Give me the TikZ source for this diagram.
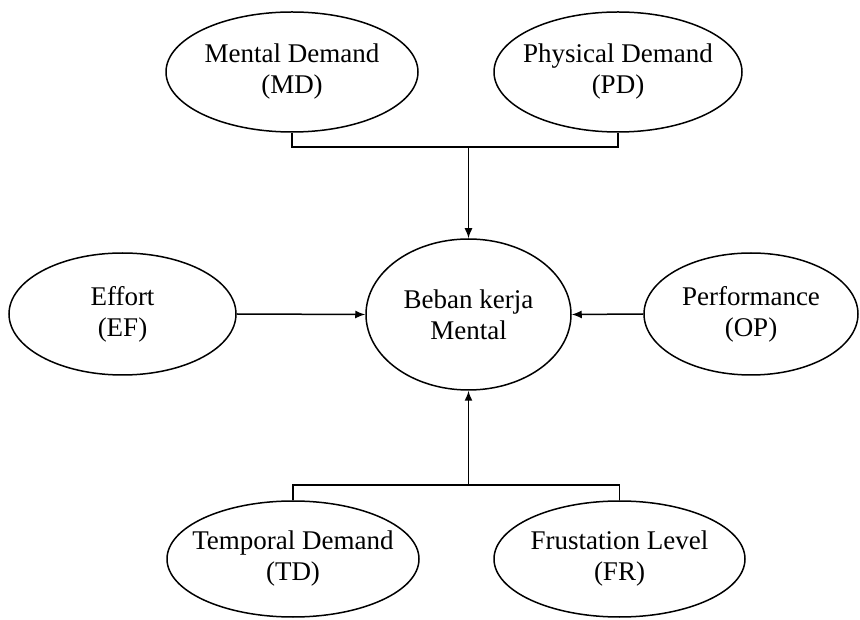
\documentclass[tikz,border=0pt]{standalone}
\usepackage{fontspec}
\setmainfont{Liberation Serif}
\usepackage{tikz}
\usetikzlibrary{arrows.meta, positioning, shapes.geometric}

% two centred lines that do not widen the ellipse
\newcommand{\twolines}[2]{\makebox[0pt]{#1}\\\makebox[0pt]{#2}}

\begin{document}
\begin{tikzpicture}[x=1pt, y=1pt, >={Latex[length=10pt,width=8pt]},
	factor/.style={ellipse, draw, line width=1.5pt, inner sep=0pt, align=center,
		font=\fontsize{27}{31}\selectfont},
	link/.style={line width=1.5pt}]
			\useasboundingbox (0,0) rectangle (860,619);
			
			% Central node
			\node[factor, minimum width=205pt, minimum height=151pt] (BKM) at (468.5,304.5) {\twolines{Beban kerja}{Mental}};
			
			% Top factors
			\node[factor, minimum width=252pt, minimum height=120pt] (MD) at (292,547) {\twolines{Mental Demand}{(MD)}};
			\node[factor, minimum width=248pt, minimum height=120pt] (PD) at (618,547) {\twolines{Physical Demand}{(PD)}};
			
			% Side factors
			\node[factor, minimum width=227pt, minimum height=122pt] (EF) at (122.5,305) {\twolines{Effort}{(EF)}};
			\node[factor, minimum width=214pt, minimum height=122pt] (OP) at (751,305) {\twolines{Performance}{(OP)}};
			
			% Bottom factors
			\node[factor, minimum width=252pt, minimum height=116pt] (TD) at (293,60) {\twolines{Temporal Demand}{(TD)}};
			\node[factor, minimum width=251pt, minimum height=116pt] (FR) at (619.5,60) {\twolines{Frustation Level}{(FR)}};
			
			% Junctions
			\coordinate (topjoin) at (468.5,472);
			\coordinate (botjoin) at (468.5,134);
			
			% Connectors
			\draw[link] (MD.south) |- (topjoin) -| (PD.south);
			\draw[link, ->] (topjoin) -- (BKM.north);
			\draw[link] (TD.north) |- (botjoin) -| (FR.north);
			\draw[link, ->] (botjoin) -- (BKM.south);
			\draw[link, ->] (EF.east) -- (BKM.west);
			\draw[link, ->] (OP.west) -- (BKM.east);
		\end{tikzpicture}
\end{document}
